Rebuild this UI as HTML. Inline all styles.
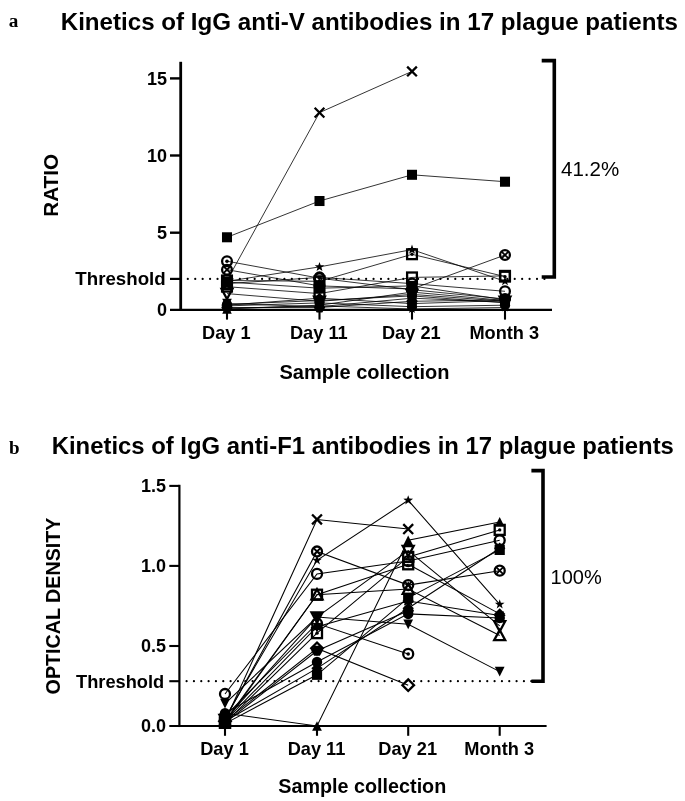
<!DOCTYPE html>
<html><head><meta charset="utf-8"><title>Kinetics of IgG antibodies</title>
<style>
html,body{margin:0;padding:0;background:#fff;}
body{width:685px;height:801px;overflow:hidden;font-family:"Liberation Sans", sans-serif;}
svg{display:block;transform:translateZ(0);will-change:transform;}
text{font-family:"Liberation Sans", sans-serif;fill:#000;}
.b{font-weight:bold;}
.ser{font-family:"Liberation Serif", serif;font-weight:bold;}
</style></head><body>
<svg width="685" height="801" viewBox="0 0 685 801">
<rect x="0" y="0" width="685" height="801" fill="#fff"/>

<!-- panel a -->
<text class="ser" x="8.7" y="27" font-size="19.2">a</text>
<text class="b" id="ta" x="60.7" y="30.0" font-size="24" textLength="617.2" lengthAdjust="spacingAndGlyphs">Kinetics of IgG anti-V antibodies in 17 plague patients</text>
<path d="M180.7,61.8V310.90000000000003" stroke="#000" stroke-width="2.8"/>
<path d="M170,309.8H552" stroke="#000" stroke-width="2.2"/>
<path d="M170,78.4H180.7" stroke="#000" stroke-width="2.4"/>
<text class="b" x="167.0" y="84.8" font-size="18" text-anchor="end">15</text>
<path d="M170,155.5H180.7" stroke="#000" stroke-width="2.4"/>
<text class="b" x="167.0" y="161.9" font-size="18" text-anchor="end">10</text>
<path d="M170,232.7H180.7" stroke="#000" stroke-width="2.4"/>
<text class="b" x="167.0" y="239.1" font-size="18" text-anchor="end">5</text>
<text class="b" x="167.0" y="316.2" font-size="18" text-anchor="end">0</text>
<path d="M170,278.9H180.7" stroke="#000" stroke-width="2.2"/>
<text class="b" x="75.3" y="285.3" font-size="18" textLength="90.4" lengthAdjust="spacingAndGlyphs">Threshold</text>
<path d="M187.8,278.9H545.5" stroke="#000" stroke-width="2.2" stroke-linecap="round" stroke-dasharray="0.01 7.42"/>
<path d="M227,309.8V319.6" stroke="#000" stroke-width="2.1"/>
<text class="b" x="226.3" y="339.2" font-size="18.2" text-anchor="middle">Day 1</text>
<path d="M319.5,309.8V319.6" stroke="#000" stroke-width="2.1"/>
<text class="b" x="318.8" y="339.2" font-size="18.2" text-anchor="middle">Day 11</text>
<path d="M412,309.8V319.6" stroke="#000" stroke-width="2.1"/>
<text class="b" x="411.3" y="339.2" font-size="18.2" text-anchor="middle">Day 21</text>
<path d="M505,309.8V319.6" stroke="#000" stroke-width="2.1"/>
<text class="b" x="504.3" y="339.2" font-size="18.2" text-anchor="middle">Month 3</text>
<text class="b" x="364.5" y="379" font-size="20" text-anchor="middle">Sample collection</text>
<text class="b" transform="translate(58.1,185.4) rotate(-90)" font-size="20.7" text-anchor="middle">RATIO</text>
<path d="M541.7,60.6H554.3V277.0H541.7" stroke="#000" stroke-width="3.6" fill="none" stroke-linejoin="miter"/>
<text x="561" y="176" font-size="20" textLength="58.2" lengthAdjust="spacingAndGlyphs">41.2%</text>
<path d="M227.0,280.5L319.5,112.6L412.0,71.4" stroke="#000" stroke-width="0.8" fill="none"/>
<path d="M227.0,237.3L319.5,201.0L412.0,174.8L505.0,181.7" stroke="#000" stroke-width="0.8" fill="none"/>
<path d="M227.0,281.3L319.5,266.9L412.0,249.6L505.0,281.3" stroke="#000" stroke-width="0.8" fill="none"/>
<path d="M227.0,280.5L319.5,281.3L412.0,254.3L505.0,276.6" stroke="#000" stroke-width="0.8" fill="none"/>
<path d="M227.0,261.2L319.5,278.2L412.0,289.7L505.0,299.0" stroke="#000" stroke-width="0.8" fill="none"/>
<path d="M227.0,269.7L319.5,285.9L412.0,289.0L505.0,255.0" stroke="#000" stroke-width="0.8" fill="none"/>
<path d="M227.0,286.7L319.5,293.6L412.0,277.4L505.0,275.9" stroke="#000" stroke-width="0.8" fill="none"/>
<path d="M227.0,283.6L319.5,277.4L412.0,283.6L505.0,291.3" stroke="#000" stroke-width="0.8" fill="none"/>
<path d="M227.0,293.6L319.5,301.3L412.0,294.4L505.0,301.3" stroke="#000" stroke-width="0.8" fill="none"/>
<path d="M227.0,282.0L319.5,288.2L412.0,285.9L505.0,299.8" stroke="#000" stroke-width="0.8" fill="none"/>
<path d="M227.0,309.0L319.5,305.2L412.0,292.1L505.0,300.5" stroke="#000" stroke-width="0.8" fill="none"/>
<path d="M227.0,303.6L319.5,306.7L412.0,298.2L505.0,302.1" stroke="#000" stroke-width="0.8" fill="none"/>
<path d="M227.0,305.2L319.5,298.2L412.0,303.6L505.0,300.5" stroke="#000" stroke-width="0.8" fill="none"/>
<path d="M227.0,305.9L319.5,302.9L412.0,306.7L505.0,305.2" stroke="#000" stroke-width="0.8" fill="none"/>
<path d="M227.0,307.5L319.5,307.5L412.0,301.3L505.0,299.8" stroke="#000" stroke-width="0.8" fill="none"/>
<path d="M227.0,304.4L319.5,300.5L412.0,295.9L505.0,302.9" stroke="#000" stroke-width="0.8" fill="none"/>
<path d="M227.0,308.3L319.5,305.9L412.0,309.0L505.0,307.5" stroke="#000" stroke-width="0.8" fill="none"/>
<path d="M222.155,275.635L231.845,285.32500000000005M222.155,285.32500000000005L231.845,275.635" stroke="#000" stroke-width="2.3" fill="none"/>
<path d="M314.655,107.755L324.345,117.445M314.655,117.445L324.345,107.755" stroke="#000" stroke-width="2.3" fill="none"/>
<path d="M407.155,66.565L416.845,76.255M407.155,76.255L416.845,66.565" stroke="#000" stroke-width="2.3" fill="none"/>
<rect x="221.984" y="232.264" width="10.032" height="10.032" fill="#000"/>
<rect x="314.484" y="196.00400000000002" width="10.032" height="10.032" fill="#000"/>
<rect x="406.984" y="169.774" width="10.032" height="10.032" fill="#000"/>
<rect x="499.984" y="176.714" width="10.032" height="10.032" fill="#000"/>
<polygon points="227.00,276.23 228.18,279.63 231.77,279.70 228.91,281.87 229.95,285.31 227.00,283.26 224.05,285.31 225.09,281.87 222.23,279.70 225.82,279.63" fill="#000"/>
<polygon points="319.50,261.88 320.68,265.28 324.27,265.35 321.41,267.52 322.45,270.96 319.50,268.91 316.55,270.96 317.59,267.52 314.73,265.35 318.32,265.28" fill="#000"/>
<polygon points="412.00,244.60 413.18,248.00 416.77,248.07 413.91,250.24 414.95,253.68 412.00,251.63 409.05,253.68 410.09,250.24 407.23,248.07 410.82,248.00" fill="#000"/>
<polygon points="505.00,276.23 506.18,279.63 509.77,279.70 506.91,281.87 507.95,285.31 505.00,283.26 502.05,285.31 503.09,281.87 500.23,279.70 503.82,279.63" fill="#000"/>
<rect x="222.108" y="275.588" width="9.784000000000002" height="9.784000000000002" fill="none" stroke="#000" stroke-width="2.3"/><circle cx="227" cy="280.48" r="1.7" fill="#000"/>
<rect x="314.608" y="276.358" width="9.784000000000002" height="9.784000000000002" fill="none" stroke="#000" stroke-width="2.3"/><circle cx="319.5" cy="281.25" r="1.7" fill="#000"/>
<rect x="407.108" y="249.358" width="9.784000000000002" height="9.784000000000002" fill="none" stroke="#000" stroke-width="2.3"/><circle cx="412" cy="254.25" r="1.7" fill="#000"/>
<rect x="500.108" y="271.738" width="9.784000000000002" height="9.784000000000002" fill="none" stroke="#000" stroke-width="2.3"/><circle cx="505" cy="276.63" r="1.7" fill="#000"/>
<circle cx="227" cy="261.2" r="4.892000000000001" fill="none" stroke="#000" stroke-width="2.3"/><circle cx="227" cy="261.2" r="1.8" fill="#000"/>
<circle cx="319.5" cy="278.17" r="4.892000000000001" fill="none" stroke="#000" stroke-width="2.3"/><circle cx="319.5" cy="278.17" r="1.8" fill="#000"/>
<circle cx="412" cy="289.74" r="4.892000000000001" fill="none" stroke="#000" stroke-width="2.3"/><circle cx="412" cy="289.74" r="1.8" fill="#000"/>
<circle cx="505" cy="299.0" r="4.892000000000001" fill="none" stroke="#000" stroke-width="2.3"/><circle cx="505" cy="299.0" r="1.8" fill="#000"/>
<circle cx="227" cy="269.68" r="4.892000000000001" fill="none" stroke="#000" stroke-width="2.3"/><path d="M223.5756,266.2556L230.4244,273.1044M223.5756,273.1044L230.4244,266.2556" stroke="#000" stroke-width="1.8" fill="none"/>
<circle cx="319.5" cy="285.88" r="4.892000000000001" fill="none" stroke="#000" stroke-width="2.3"/><path d="M316.0756,282.4556L322.9244,289.3044M316.0756,289.3044L322.9244,282.4556" stroke="#000" stroke-width="1.8" fill="none"/>
<circle cx="412" cy="288.97" r="4.892000000000001" fill="none" stroke="#000" stroke-width="2.3"/><path d="M408.5756,285.54560000000004L415.4244,292.3944M408.5756,292.3944L415.4244,285.54560000000004" stroke="#000" stroke-width="1.8" fill="none"/>
<circle cx="505" cy="255.02" r="4.892000000000001" fill="none" stroke="#000" stroke-width="2.3"/><path d="M501.5756,251.59560000000002L508.4244,258.44440000000003M501.5756,258.44440000000003L508.4244,251.59560000000002" stroke="#000" stroke-width="1.8" fill="none"/>
<rect x="222.108" y="281.76800000000003" width="9.784000000000002" height="9.784000000000002" fill="none" stroke="#000" stroke-width="2.3"/>
<rect x="314.608" y="288.708" width="9.784000000000002" height="9.784000000000002" fill="none" stroke="#000" stroke-width="2.3"/>
<rect x="407.108" y="272.508" width="9.784000000000002" height="9.784000000000002" fill="none" stroke="#000" stroke-width="2.3"/>
<rect x="500.108" y="270.958" width="9.784000000000002" height="9.784000000000002" fill="none" stroke="#000" stroke-width="2.3"/>
<circle cx="227" cy="283.57" r="4.892000000000001" fill="none" stroke="#000" stroke-width="2.3"/>
<circle cx="319.5" cy="277.4" r="4.892000000000001" fill="none" stroke="#000" stroke-width="2.3"/>
<circle cx="412" cy="283.57" r="4.892000000000001" fill="none" stroke="#000" stroke-width="2.3"/>
<circle cx="505" cy="291.28" r="4.892000000000001" fill="none" stroke="#000" stroke-width="2.3"/>
<polygon points="227,299.01500000000004 232.415,288.99725 221.585,288.99725" fill="none" stroke="#000" stroke-width="2.3" stroke-linejoin="miter"/>
<polygon points="319.5,306.725 324.915,296.70725 314.085,296.70725" fill="none" stroke="#000" stroke-width="2.3" stroke-linejoin="miter"/>
<polygon points="412,299.785 417.415,289.76725 406.585,289.76725" fill="none" stroke="#000" stroke-width="2.3" stroke-linejoin="miter"/>
<polygon points="505,306.725 510.415,296.70725 499.585,296.70725" fill="none" stroke="#000" stroke-width="2.3" stroke-linejoin="miter"/>
<rect x="221.984" y="277.01399999999995" width="10.032" height="10.032" fill="#000"/>
<rect x="314.484" y="283.18399999999997" width="10.032" height="10.032" fill="#000"/>
<rect x="406.984" y="280.864" width="10.032" height="10.032" fill="#000"/>
<rect x="499.984" y="294.75399999999996" width="10.032" height="10.032" fill="#000"/>
<polygon points="227,304.24199999999996 231.788,313.818 222.212,313.818" fill="#000"/>
<polygon points="319.5,300.382 324.288,309.958 314.712,309.958" fill="#000"/>
<polygon points="412,287.272 416.788,296.848 407.212,296.848" fill="#000"/>
<polygon points="505,295.752 509.788,305.32800000000003 500.212,305.32800000000003" fill="#000"/>
<polygon points="227,308.418 231.788,298.842 222.212,298.842" fill="#000"/>
<polygon points="319.5,311.498 324.288,301.92199999999997 314.712,301.92199999999997" fill="#000"/>
<polygon points="412,303.01800000000003 416.788,293.442 407.212,293.442" fill="#000"/>
<polygon points="505,306.878 509.788,297.30199999999996 500.212,297.30199999999996" fill="#000"/>
<polygon points="227,299.584 232.586,305.17 227,310.75600000000003 221.414,305.17" fill="#000"/>
<polygon points="319.5,292.644 325.086,298.23 319.5,303.81600000000003 313.914,298.23" fill="#000"/>
<polygon points="412,298.044 417.586,303.63 412,309.216 406.414,303.63" fill="#000"/>
<polygon points="505,294.954 510.586,300.54 505,306.12600000000003 499.414,300.54" fill="#000"/>
<circle cx="227" cy="305.94" r="5.13" fill="#000"/>
<circle cx="319.5" cy="302.86" r="5.13" fill="#000"/>
<circle cx="412" cy="306.71" r="5.13" fill="#000"/>
<circle cx="505" cy="305.17" r="5.13" fill="#000"/>
<polygon points="232.70,307.49 229.85,312.43 224.15,312.43 221.30,307.49 224.15,302.55 229.85,302.55" fill="#000"/>
<polygon points="325.20,307.49 322.35,312.43 316.65,312.43 313.80,307.49 316.65,302.55 322.35,302.55" fill="#000"/>
<polygon points="417.70,301.31 414.85,306.25 409.15,306.25 406.30,301.31 409.15,296.37 414.85,296.37" fill="#000"/>
<polygon points="510.70,299.77 507.85,304.71 502.15,304.71 499.30,299.77 502.15,294.83 507.85,294.83" fill="#000"/>
<circle cx="227" cy="304.4" r="5.13" fill="#000"/>
<circle cx="319.5" cy="300.54" r="5.13" fill="#000"/>
<circle cx="412" cy="295.91" r="5.13" fill="#000"/>
<circle cx="505" cy="302.86" r="5.13" fill="#000"/>
<polygon points="227.00,303.24 228.18,306.64 231.77,306.71 228.91,308.88 229.95,312.32 227.00,310.27 224.05,312.32 225.09,308.88 222.23,306.71 225.82,306.64" fill="#000"/>
<polygon points="319.50,300.92 320.68,304.32 324.27,304.39 321.41,306.56 322.45,310.00 319.50,307.95 316.55,310.00 317.59,306.56 314.73,304.39 318.32,304.32" fill="#000"/>
<polygon points="412.00,304.01 413.18,307.41 416.77,307.48 413.91,309.65 414.95,313.09 412.00,311.04 409.05,313.09 410.09,309.65 407.23,307.48 410.82,307.41" fill="#000"/>
<polygon points="505.00,302.47 506.18,305.87 509.77,305.94 506.91,308.11 507.95,311.55 505.00,309.50 502.05,311.55 503.09,308.11 500.23,305.94 503.82,305.87" fill="#000"/>
<!-- panel b -->
<text class="ser" x="8.9" y="454" font-size="19">b</text>
<text class="b" id="tb" x="51.7" y="454.1" font-size="23.8" textLength="622.2" lengthAdjust="spacingAndGlyphs">Kinetics of IgG anti-F1 antibodies in 17 plague patients</text>
<path d="M179.4,484.8V727.05" stroke="#000" stroke-width="2.2"/>
<path d="M169.3,726.0H546.6" stroke="#000" stroke-width="2.1"/>
<path d="M169.3,485.9H179.4" stroke="#000" stroke-width="2.1"/>
<text class="b" x="166" y="492.2" font-size="18" text-anchor="end">1.5</text>
<path d="M169.3,565.9H179.4" stroke="#000" stroke-width="2.1"/>
<text class="b" x="166" y="572.3" font-size="18" text-anchor="end">1.0</text>
<path d="M169.3,646.0H179.4" stroke="#000" stroke-width="2.1"/>
<text class="b" x="166" y="652.4" font-size="18" text-anchor="end">0.5</text>
<text class="b" x="166" y="732.4" font-size="18" text-anchor="end">0.0</text>
<path d="M169.3,681.2H179.4" stroke="#000" stroke-width="2.1"/>
<text class="b" x="76" y="687.6" font-size="18" textLength="88.2" lengthAdjust="spacingAndGlyphs">Threshold</text>
<path d="M186.6,681.2H532" stroke="#000" stroke-width="2.2" stroke-linecap="round" stroke-dasharray="0.01 7.323"/>
<path d="M225,726.0V735.8" stroke="#000" stroke-width="2.1"/>
<text class="b" x="224.5" y="755.2" font-size="18.2" text-anchor="middle">Day 1</text>
<path d="M317,726.0V735.8" stroke="#000" stroke-width="2.1"/>
<text class="b" x="316.5" y="755.2" font-size="18.2" text-anchor="middle">Day 11</text>
<path d="M408.2,726.0V735.8" stroke="#000" stroke-width="2.1"/>
<text class="b" x="407.7" y="755.2" font-size="18.2" text-anchor="middle">Day 21</text>
<path d="M499.7,726.0V735.8" stroke="#000" stroke-width="2.1"/>
<text class="b" x="499.2" y="755.2" font-size="18.2" text-anchor="middle">Month 3</text>
<text class="b" x="362.3" y="793" font-size="19.75" text-anchor="middle">Sample collection</text>
<text class="b" transform="translate(59.7,606.0) rotate(-90)" font-size="19.7" text-anchor="middle">OPTICAL DENSITY</text>
<path d="M531.4,470.6H543.0V681.2H531.4" stroke="#000" stroke-width="3.6" fill="none"/>
<text x="550.6" y="584" font-size="20">100%</text>
<path d="M225.0,721.2L317.0,519.5L408.2,529.1" stroke="#000" stroke-width="1.05" fill="none"/>
<path d="M225.0,718.0L317.0,560.3L408.2,500.3L499.7,604.3" stroke="#000" stroke-width="1.05" fill="none"/>
<path d="M225.0,719.6L317.0,551.5L408.2,585.1L499.7,570.7" stroke="#000" stroke-width="1.05" fill="none"/>
<path d="M225.0,694.0L317.0,573.9L408.2,561.1L499.7,540.3" stroke="#000" stroke-width="1.05" fill="none"/>
<path d="M225.0,722.8L317.0,594.7L408.2,564.3" stroke="#000" stroke-width="1.05" fill="none"/>
<path d="M408.2,564.3L499.7,613.9" stroke="#000" stroke-width="1.05" fill="none"/>
<path d="M499.7,613.9" stroke="#000" stroke-width="1.05" fill="none"/>
<path d="M225.0,721.2L317.0,594.7L408.2,589.1L499.7,635.5" stroke="#000" stroke-width="1.05" fill="none"/>
<path d="M225.0,713.2L317.0,726.0L408.2,540.3L499.7,521.9" stroke="#000" stroke-width="1.05" fill="none"/>
<path d="M225.0,721.2L317.0,648.4L408.2,685.2" stroke="#000" stroke-width="1.05" fill="none"/>
<path d="M225.0,716.4L317.0,623.5L408.2,654.0" stroke="#000" stroke-width="1.05" fill="none"/>
<path d="M225.0,703.6L317.0,617.1L408.2,624.3L499.7,671.6" stroke="#000" stroke-width="1.05" fill="none"/>
<path d="M225.0,723.6L317.0,674.8L408.2,597.9L499.7,549.9" stroke="#000" stroke-width="1.05" fill="none"/>
<path d="M225.0,722.8L317.0,633.1L408.2,556.9L499.7,529.9" stroke="#000" stroke-width="1.05" fill="none"/>
<path d="M225.0,713.2L317.0,662.0L408.2,613.9L499.7,617.9" stroke="#000" stroke-width="1.05" fill="none"/>
<path d="M225.0,721.2L317.0,668.4L408.2,608.3L499.7,548.3" stroke="#000" stroke-width="1.05" fill="none"/>
<path d="M225.0,719.6L317.0,617.1L408.2,550.7L499.7,625.9" stroke="#000" stroke-width="1.05" fill="none"/>
<path d="M225.0,722.8L317.0,650.8L408.2,610.7" stroke="#000" stroke-width="1.05" fill="none"/>
<path d="M225.0,721.2L317.0,626.7L408.2,601.1L499.7,615.5" stroke="#000" stroke-width="1.05" fill="none"/>
<path d="M220.07,716.2700000000001L229.93,726.13M220.07,726.13L229.93,716.2700000000001" stroke="#000" stroke-width="2.3" fill="none"/>
<path d="M312.07,514.5400000000001L321.93,524.4M312.07,524.4L321.93,514.5400000000001" stroke="#000" stroke-width="2.3" fill="none"/>
<path d="M403.27,524.1500000000001L413.13,534.01M403.27,534.01L413.13,524.1500000000001" stroke="#000" stroke-width="2.3" fill="none"/>
<polygon points="225.00,712.90 226.20,716.35 229.85,716.42 226.94,718.63 228.00,722.13 225.00,720.04 222.00,722.13 223.06,718.63 220.15,716.42 223.80,716.35" fill="#000"/>
<polygon points="317.00,555.20 318.20,558.65 321.85,558.72 318.94,560.93 320.00,564.43 317.00,562.34 314.00,564.43 315.06,560.93 312.15,558.72 315.80,558.65" fill="#000"/>
<polygon points="408.20,495.16 409.40,498.61 413.05,498.68 410.14,500.89 411.20,504.39 408.20,502.30 405.20,504.39 406.26,500.89 403.35,498.68 407.00,498.61" fill="#000"/>
<polygon points="499.70,599.22 500.90,602.67 504.55,602.74 501.64,604.95 502.70,608.45 499.70,606.36 496.70,608.45 497.76,604.95 494.85,602.74 498.50,602.67" fill="#000"/>
<circle cx="225" cy="719.6" r="4.997999999999999" fill="none" stroke="#000" stroke-width="2.3"/><path d="M221.5014,716.1014L228.4986,723.0986M221.5014,723.0986L228.4986,716.1014" stroke="#000" stroke-width="1.8" fill="none"/>
<circle cx="317" cy="551.49" r="4.997999999999999" fill="none" stroke="#000" stroke-width="2.3"/><path d="M313.5014,547.9914L320.4986,554.9886M313.5014,554.9886L320.4986,547.9914" stroke="#000" stroke-width="1.8" fill="none"/>
<circle cx="408.2" cy="585.11" r="4.997999999999999" fill="none" stroke="#000" stroke-width="2.3"/><path d="M404.7014,581.6114L411.6986,588.6086M404.7014,588.6086L411.6986,581.6114" stroke="#000" stroke-width="1.8" fill="none"/>
<circle cx="499.7" cy="570.7" r="4.997999999999999" fill="none" stroke="#000" stroke-width="2.3"/><path d="M496.2014,567.2014L503.1986,574.1986M496.2014,574.1986L503.1986,567.2014" stroke="#000" stroke-width="1.8" fill="none"/>
<circle cx="225" cy="693.98" r="4.997999999999999" fill="none" stroke="#000" stroke-width="2.3"/>
<circle cx="317" cy="573.9" r="4.997999999999999" fill="none" stroke="#000" stroke-width="2.3"/>
<circle cx="408.2" cy="561.1" r="4.997999999999999" fill="none" stroke="#000" stroke-width="2.3"/>
<circle cx="499.7" cy="540.28" r="4.997999999999999" fill="none" stroke="#000" stroke-width="2.3"/>
<rect x="220.002" y="717.8019999999999" width="9.995999999999999" height="9.995999999999999" fill="none" stroke="#000" stroke-width="2.3"/>
<rect x="312.002" y="589.722" width="9.995999999999999" height="9.995999999999999" fill="none" stroke="#000" stroke-width="2.3"/>
<rect x="403.202" y="559.3019999999999" width="9.995999999999999" height="9.995999999999999" fill="none" stroke="#000" stroke-width="2.3"/>
<polygon points="499.7,608.246 505.384,613.93 499.7,619.6139999999999 494.01599999999996,613.93" fill="#000"/>
<polygon points="225,715.69 230.51,725.8835 219.49,725.8835" fill="none" stroke="#000" stroke-width="2.3" stroke-linejoin="miter"/>
<polygon points="317,589.21 322.51,599.4035 311.49,599.4035" fill="none" stroke="#000" stroke-width="2.3" stroke-linejoin="miter"/>
<polygon points="408.2,583.6 413.71,593.7935 402.69,593.7935" fill="none" stroke="#000" stroke-width="2.3" stroke-linejoin="miter"/>
<polygon points="499.7,630.03 505.21,640.2235 494.19,640.2235" fill="none" stroke="#000" stroke-width="2.3" stroke-linejoin="miter"/>
<polygon points="225,708.3180000000001 229.872,718.062 220.128,718.062" fill="#000"/>
<polygon points="317,721.128 321.872,730.872 312.128,730.872" fill="#000"/>
<polygon points="408.2,535.408 413.072,545.1519999999999 403.328,545.1519999999999" fill="#000"/>
<polygon points="499.7,516.998 504.572,526.742 494.828,526.742" fill="#000"/>
<polygon points="225,715.4000000000001 230.8,721.2 225,727.0 219.2,721.2" fill="none" stroke="#000" stroke-width="2.3"/>
<polygon points="317,642.5500000000001 322.8,648.35 317,654.15 311.2,648.35" fill="none" stroke="#000" stroke-width="2.3"/>
<polygon points="408.2,679.37 414.0,685.17 408.2,690.9699999999999 402.4,685.17" fill="none" stroke="#000" stroke-width="2.3"/>
<circle cx="225" cy="716.39" r="4.997999999999999" fill="none" stroke="#000" stroke-width="2.3"/><circle cx="225" cy="716.39" r="1.8" fill="#000"/>
<circle cx="317" cy="623.54" r="4.997999999999999" fill="none" stroke="#000" stroke-width="2.3"/><circle cx="317" cy="623.54" r="1.8" fill="#000"/>
<circle cx="408.2" cy="653.96" r="4.997999999999999" fill="none" stroke="#000" stroke-width="2.3"/><circle cx="408.2" cy="653.96" r="1.8" fill="#000"/>
<polygon points="225,708.462 229.872,698.7180000000001 220.128,698.7180000000001" fill="#000"/>
<polygon points="317,622.002 321.872,612.258 312.128,612.258" fill="#000"/>
<polygon points="408.2,629.212 413.072,619.4680000000001 403.328,619.4680000000001" fill="#000"/>
<polygon points="499.7,676.442 504.572,666.6980000000001 494.828,666.6980000000001" fill="#000"/>
<rect x="219.896" y="718.496" width="10.208" height="10.208" fill="#000"/>
<rect x="311.896" y="669.6659999999999" width="10.208" height="10.208" fill="#000"/>
<rect x="403.096" y="592.8159999999999" width="10.208" height="10.208" fill="#000"/>
<rect x="494.596" y="544.786" width="10.208" height="10.208" fill="#000"/>
<rect x="220.002" y="717.8019999999999" width="9.995999999999999" height="9.995999999999999" fill="none" stroke="#000" stroke-width="2.3"/><circle cx="225" cy="722.8" r="1.7" fill="#000"/>
<rect x="312.002" y="628.1419999999999" width="9.995999999999999" height="9.995999999999999" fill="none" stroke="#000" stroke-width="2.3"/><circle cx="317" cy="633.14" r="1.7" fill="#000"/>
<rect x="403.202" y="551.9319999999999" width="9.995999999999999" height="9.995999999999999" fill="none" stroke="#000" stroke-width="2.3"/><circle cx="408.2" cy="556.93" r="1.7" fill="#000"/>
<rect x="494.702" y="524.882" width="9.995999999999999" height="9.995999999999999" fill="none" stroke="#000" stroke-width="2.3"/><circle cx="499.7" cy="529.88" r="1.7" fill="#000"/>
<circle cx="225" cy="713.19" r="5.22" fill="#000"/>
<circle cx="317" cy="661.96" r="5.22" fill="#000"/>
<circle cx="408.2" cy="613.93" r="5.22" fill="#000"/>
<circle cx="499.7" cy="617.93" r="5.22" fill="#000"/>
<polygon points="225,715.5160000000001 230.684,721.2 225,726.884 219.316,721.2" fill="#000"/>
<polygon points="317,662.676 322.684,668.36 317,674.044 311.316,668.36" fill="#000"/>
<polygon points="408.2,602.6460000000001 413.884,608.33 408.2,614.014 402.51599999999996,608.33" fill="#000"/>
<polygon points="499.7,542.606 505.384,548.29 499.7,553.9739999999999 494.01599999999996,548.29" fill="#000"/>
<polygon points="225,725.11 230.51,714.9165 219.49,714.9165" fill="none" stroke="#000" stroke-width="2.3" stroke-linejoin="miter"/>
<polygon points="317,622.64 322.51,612.4465 311.49,612.4465" fill="none" stroke="#000" stroke-width="2.3" stroke-linejoin="miter"/>
<polygon points="408.2,556.2 413.71,546.0065000000001 402.69,546.0065000000001" fill="none" stroke="#000" stroke-width="2.3" stroke-linejoin="miter"/>
<polygon points="499.7,631.45 505.21,621.2565000000001 494.19,621.2565000000001" fill="none" stroke="#000" stroke-width="2.3" stroke-linejoin="miter"/>
<polygon points="230.80,722.80 227.90,727.82 222.10,727.82 219.20,722.80 222.10,717.78 227.90,717.78" fill="#000"/>
<polygon points="322.80,650.75 319.90,655.77 314.10,655.77 311.20,650.75 314.10,645.73 319.90,645.73" fill="#000"/>
<polygon points="414.00,610.73 411.10,615.75 405.30,615.75 402.40,610.73 405.30,605.71 411.10,605.71" fill="#000"/>
<polygon points="225.00,715.11 226.40,717.82 229.31,716.89 228.38,719.80 231.09,721.20 228.38,722.60 229.31,725.51 226.40,724.58 225.00,727.29 223.60,724.58 220.69,725.51 221.62,722.60 218.91,721.20 221.62,719.80 220.69,716.89 223.60,717.82" fill="#000"/>
<polygon points="317.00,620.65 318.40,623.36 321.31,622.43 320.38,625.34 323.09,626.74 320.38,628.14 321.31,631.05 318.40,630.12 317.00,632.83 315.60,630.12 312.69,631.05 313.62,628.14 310.91,626.74 313.62,625.34 312.69,622.43 315.60,623.36" fill="#000"/>
<polygon points="408.20,595.03 409.60,597.74 412.51,596.81 411.58,599.72 414.29,601.12 411.58,602.52 412.51,605.43 409.60,604.50 408.20,607.21 406.80,604.50 403.89,605.43 404.82,602.52 402.11,601.12 404.82,599.72 403.89,596.81 406.80,597.74" fill="#000"/>
<polygon points="499.70,609.44 501.10,612.15 504.01,611.22 503.08,614.13 505.79,615.53 503.08,616.93 504.01,619.84 501.10,618.91 499.70,621.62 498.30,618.91 495.39,619.84 496.32,616.93 493.61,615.53 496.32,614.13 495.39,611.22 498.30,612.15" fill="#000"/>
</svg></body></html>
